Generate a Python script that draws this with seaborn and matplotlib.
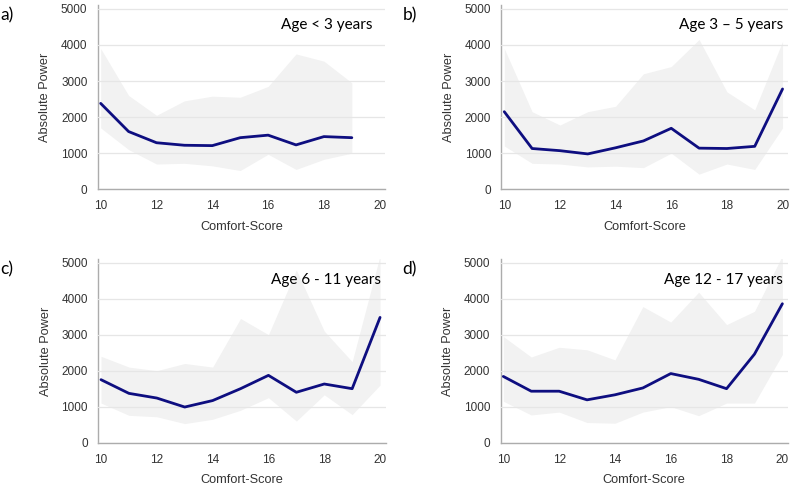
import numpy as np
import pandas as pd
import seaborn as sns
import matplotlib.pyplot as plt
from matplotlib.ticker import MultipleLocator

# Comfort-Score (x) and Absolute Power mean with band limits, per age group
scoreA = [10, 11, 12, 13, 14, 15, 16, 17, 18, 19]
meanA = [2380, 1600, 1290, 1220, 1210, 1430, 1500, 1230, 1460, 1430]
upperA = [3900, 2600, 2050, 2450, 2580, 2550, 2850, 3750, 3550, 2950]
lowerA = [1700, 1100, 700, 720, 650, 520, 970, 550, 830, 1000]

scoreB = [10, 11, 12, 13, 14, 15, 16, 17, 18, 19, 20]
meanB = [2150, 1130, 1070, 980, 1150, 1340, 1690, 1140, 1130, 1190, 2780]
upperB = [3900, 2150, 1780, 2150, 2300, 3200, 3400, 4150, 2700, 2200, 4100]
lowerB = [1200, 720, 700, 620, 640, 600, 1000, 420, 700, 550, 1700]

scoreC = [10, 11, 12, 13, 14, 15, 16, 17, 18, 19, 20]
meanC = [1750, 1370, 1240, 990, 1170, 1500, 1870, 1400, 1630, 1500, 3480]
upperC = [2400, 2100, 2000, 2200, 2100, 3450, 3000, 4800, 3100, 2250, 5200]
lowerC = [1100, 760, 720, 530, 650, 900, 1250, 600, 1330, 780, 1600]

scoreD = [10, 11, 12, 13, 14, 15, 16, 17, 18, 19, 20]
meanD = [1840, 1430, 1430, 1190, 1330, 1520, 1920, 1760, 1500, 2460, 3860]
upperD = [2950, 2380, 2650, 2580, 2300, 3780, 3350, 4180, 3280, 3650, 5200]
lowerD = [1150, 770, 850, 560, 540, 850, 1000, 750, 1100, 1100, 2450]

titles = ["Age < 3 years", "Age 3 \u2013 5 years", "Age 6 - 11 years", "Age 12 - 17 years"]
letters = ["a)", "b)", "c)", "d)"]

sns.set_style("white")
plt.rcParams['font.family'] = ['Liberation Sans', 'DejaVu Sans']

fig = plt.figure(figsize=(7.94, 4.87), dpi=100)
positions = [[0.1233, 0.6113, 0.362, 0.378],
             [0.6316, 0.6113, 0.361, 0.378],
             [0.1237, 0.0910, 0.362, 0.377],
             [0.6304, 0.0910, 0.362, 0.377]]
titlePos = [(0.956, 0.892), (0.983, 0.892), (0.985, 0.886), (0.984, 0.886)]
letterPos = [(0.0, 0.968), (0.507, 0.968), (0.0, 0.446), (0.507, 0.446)]

panels = [(scoreA, meanA, upperA, lowerA), (scoreB, meanB, upperB, lowerB),
          (scoreC, meanC, upperC, lowerC), (scoreD, meanD, upperD, lowerD)]

spineColor = "#acacac"
for i, (sc, mn, up, lo) in enumerate(panels):
    ax = fig.add_axes(positions[i])
    df = pd.DataFrame({"Comfort-Score": sc, "Absolute Power": mn})
    ax.fill_between(sc, lo, up, color="#f2f2f2", linewidth=0, zorder=0.5)
    sns.lineplot(data=df, x="Comfort-Score", y="Absolute Power", ax=ax,
                 color="#0e0e80", linewidth=2.0, zorder=3)
    ax.set_xlim(9.9, 20.2)
    ax.set_ylim(0, 5100)
    ax.set_xticks([10, 12, 14, 16, 18, 20])
    ax.xaxis.set_minor_locator(MultipleLocator(1))
    ax.set_yticks([0, 1000, 2000, 3000, 4000, 5000])
    ax.yaxis.set_minor_locator(MultipleLocator(500))
    ax.yaxis.grid(True, color="#e6e6e6", linewidth=0.9, zorder=1)
    ax.set_axisbelow(False)
    for s in ["top", "right"]:
        ax.spines[s].set_visible(False)
    for s in ["left", "bottom"]:
        ax.spines[s].set_color(spineColor)
        ax.spines[s].set_linewidth(1.0)
    ax.tick_params(axis="both", which="both", direction="out", color=spineColor,
                   labelcolor="#333333", labelsize=8.5)
    ax.tick_params(axis="both", which="major", length=4, width=1)
    ax.tick_params(axis="both", which="minor", length=3, width=0.8)
    ax.tick_params(axis="x", pad=4)
    ax.set_xlabel("Comfort-Score", fontsize=9.2, color="#333333", labelpad=6)
    ax.set_ylabel("Absolute Power", fontsize=9.2, color="#333333", labelpad=7)
    ax.text(titlePos[i][0], titlePos[i][1], titles[i], transform=ax.transAxes,
            ha="right", va="center", fontsize=11, family=["Lato", "DejaVu Sans"],
            color="black")
    fig.text(letterPos[i][0], letterPos[i][1], letters[i], ha="left", va="center",
             fontsize=12.5, family=["Lato", "DejaVu Sans"], color="black")

fig.savefig("out.png", dpi=100, facecolor="white")
